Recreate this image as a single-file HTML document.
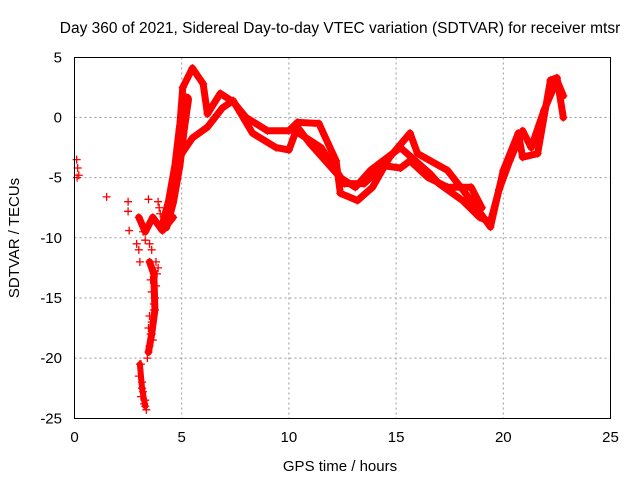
<!DOCTYPE html>
<html><head><meta charset="utf-8"><style>
body{margin:0;background:#fff}
svg{display:block;font-family:"Liberation Sans",sans-serif}
</style></head><body>
<svg id="chart" width="640" height="480">
<rect width="640" height="480" fill="#fff"/>
<text x="340" y="33" font-size="15.5" text-anchor="middle" fill="#000">Day 360 of 2021, Sidereal Day-to-day VTEC variation (SDTVAR) for receiver mtsr</text>
<g id="grid"></g>
<g id="ticks"></g>
<g id="marks"></g>
<rect x="74.5" y="57.5" width="536" height="361" fill="none" stroke="#000"/>
<text x="340" y="471" font-size="15" text-anchor="middle">GPS time / hours</text>
<text transform="translate(19,238) rotate(-90)" font-size="15" text-anchor="middle">SDTVAR / TECUs</text>
</svg>
<script>
const xTicks=[0,5,10,15,20,25];
const yTicks=[5,0,-5,-10,-15,-20,-25];
const trackUpper=[[4.6,-6],[4.9,-1],[5.05,2.5],[5.5,4.1],[6.0,2.8],[6.2,0.3],[6.8,2.0],[7.4,1.3],[8.0,0],[9.0,-1.1],[10,-1.1],[10.4,-0.4],[11.4,-0.5],[12.2,-3.6],[12.4,-6.3],[13.2,-6.9],[13.9,-5.8],[14.7,-3.3],[15.65,-1.3],[16.0,-3],[17.4,-4.4],[18.5,-6.9],[19.4,-9.1],[20,-4.4],[20.7,-1.3],[20.9,-3.3],[21.6,-3],[22.2,3.1],[22.5,3.3],[22.8,0]];
const trackLower=[[4.3,-8.5],[4.7,-5],[5.0,-3],[5.5,-1.7],[6.2,-0.8],[6.9,0.8],[7.4,1.4],[8.3,-1.3],[9.4,-2.5],[10,-2.7],[10.4,-0.8],[11,-2.2],[12.4,-5],[13.1,-5.8],[13.8,-4.4],[15.2,-2.5],[16.6,-4.7],[17,-5.5],[18.1,-6.9],[18.9,-8.3],[19.4,-8.7],[19.8,-6],[20.3,-3.6],[20.9,-1.1],[21.3,-2.5],[21.9,0.6],[22.5,3.1],[22.8,1.8]];
const trackMid=[[10.2,-1],[11.5,-2.5],[12.6,-5.5],[13.5,-5.5],[14.4,-4],[15.2,-4.2],[15.65,-3.6],[16.5,-5],[17.4,-5.8],[18.5,-5.8],[19,-7.5]];
const trackRise=[[4.2,-9],[4.5,-7],[4.8,-4],[5.0,-1],[5.2,1.5]];
const trackDip=[[3.0,-8.3],[3.3,-9.5],[3.65,-8.3],[4.1,-9.4],[4.6,-8.3]];
const trackColA=[[3.05,-20.5],[3.15,-22.5],[3.3,-24]];
const trackColB=[[3.5,-12],[3.7,-13],[3.75,-16],[3.6,-18],[3.45,-19.5]];
const scatterT=[0.1,0.15,0.2,0.12,1.5,2.5,2.5,2.55,2.9,3.0,3.05,3.1,3.0,3.15,3.2,3.1,3.3,3.35,3.25,3.4,3.5,3.55,3.6,3.7,3.75,3.8,3.85,3.9,3.6,3.5,3.45,3.65,3.7,3.8,3.5,3.4,3.45,3.55,3.6,3.3,3.2,3.9,3.95,4.0];
const scatterV=[-3.5,-4.2,-4.8,-5,-6.6,-7,-7.8,-9.4,-10.5,-11,-12,-20.5,-21.5,-22,-22.8,-23.2,-23.5,-24.3,-23.8,-20,-19,-18,-17,-16,-15,-14,-13,-12.5,-14.5,-16.5,-17.5,-18.5,-15.5,-12,-10.5,-9,-6.8,-13.5,-11,-10.2,-9.5,-7,-7.5,-8];
const X=t=>74.5+t*21.44, Y=v=>117.5-v*12.03;
const NS='http://www.w3.org/2000/svg';
const grid=document.getElementById('grid'),ticks=document.getElementById('ticks'),marks=document.getElementById('marks');
function mk(tag,at,parent){const e=document.createElementNS(NS,tag);for(const k in at)e.setAttribute(k,at[k]);parent.appendChild(e);return e;}
xTicks.forEach(t=>{
  if(t>0&&t<25){const g=mk('line',{x1:X(t),x2:X(t),y1:57.5,y2:418.5,stroke:'#999','stroke-dasharray':'2,3'},grid);
  
  }
  const l=mk('text',{x:X(t),y:442,'font-size':15,'text-anchor':'middle'},ticks);l.textContent=t;
  
  
});
yTicks.forEach(v=>{
  if(v<5&&v>-25){const g=mk('line',{x1:74.5,x2:610.5,y1:Y(v),y2:Y(v),stroke:'#999','stroke-dasharray':'2,3'},grid);
  
  }
  const l=mk('text',{x:62,y:Y(v)+5,'font-size':15,'text-anchor':'end'},ticks);l.textContent=v;
  
  
});
function plus(t,v){const p=mk('path',{d:`M${X(t)-4},${Y(v)}h8M${X(t)},${Y(v)-4}v8`,stroke:'#f00','stroke-width':1.3},marks);
  
  }
[[trackUpper,'track-upper',7],[trackLower,'track-lower',7],[trackMid,'track-mid',7],[trackRise,'track-rise',12],[trackDip,'track-dip',7],[trackColA,'track-column-a',6],[trackColB,'track-column-b',7]].forEach(([tr,n,w])=>{
  const pl=mk('polyline',{points:tr.map(p=>X(p[0])+','+Y(p[1])).join(' '),fill:'none',stroke:'#f00','stroke-width':w,'stroke-linejoin':'round','stroke-linecap':'round'},marks);
  
  
  tr.forEach(p=>plus(p[0],p[1]));
});
scatterT.forEach((t,i)=>plus(t,scatterV[i]));
</script>
</body></html>
